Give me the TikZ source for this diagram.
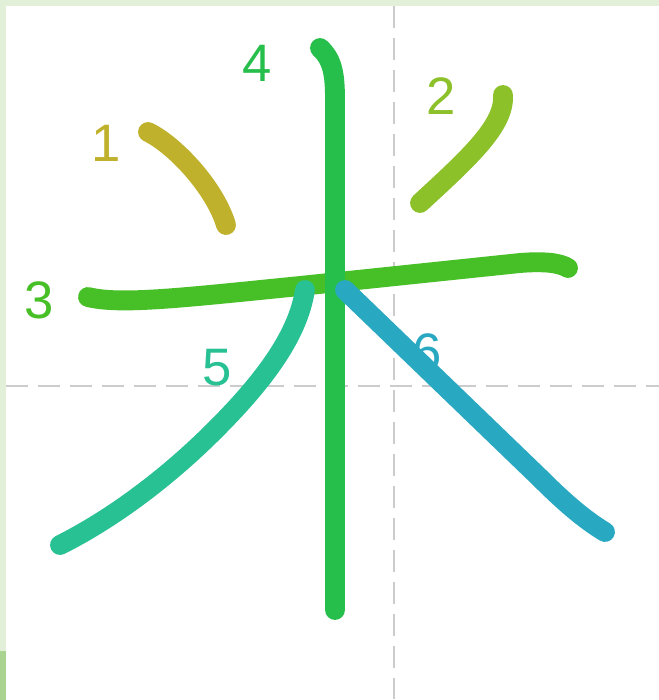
\documentclass[tikz,border=0pt]{standalone}
\usepackage{fontspec}
\setmainfont{Liberation Sans}
\usepackage{tikz}
\usetikzlibrary{positioning,calc}

\definecolor{frameLight}{HTML}{E2EFD9}
\definecolor{frameDark}{HTML}{A9D48F}
\definecolor{guideGray}{HTML}{CCCCCC}
\definecolor{strokeA}{HTML}{BFB12B}
\definecolor{strokeB}{HTML}{8DC12A}
\definecolor{strokeC}{HTML}{47BF27}
\definecolor{strokeD}{HTML}{27BF4B}
\definecolor{strokeE}{HTML}{27C193}
\definecolor{strokeF}{HTML}{29A9C1}

\tikzset{
  penline/.style={line width=11.3pt, line cap=round, line join=round},
  guideline/.style={guideGray, line width=1.6pt, dash pattern=on 12.5pt off 5.7pt},
  numlbl/.style={font=\fontsize{30}{30}\selectfont, inner sep=0pt}
}

\begin{document}
\begin{tikzpicture}[x=0.02cm, y=-0.02cm]
\useasboundingbox (0,0) rectangle (659,700);
% paper and frame
\fill[white] (0,0) rectangle (659,700);
\fill[frameLight] (0,0) rectangle (659,6);
\fill[frameLight] (0,0) rectangle (6,651);
\fill[frameDark] (0,651) rectangle (6,700);
% guide lines
\draw[guideline] (394,6) -- (394,700);
\draw[guideline] (6,386) -- (659,386);
% stroke numbers
\foreach \n/\px/\py/\col in {%
  1/106/143/strokeA,%
  2/441/96/strokeB,%
  3/39/300/strokeC,%
  4/257/63/strokeD,%
  5/217/368/strokeE,%
  6/427/352/strokeF%
} {
  \node[numlbl, text=\col] (num\n) at (\px,\py) {\n};
}
% strokes of the character
\draw[penline, strokeA] (148,132) .. controls (175,145) and (215,188) .. (226,225);
\draw[penline, strokeB] (503,95) .. controls (505,125) and (470,157) .. (420,203);
\draw[penline, strokeC] (88,297) .. controls (120,305) and (180,298) .. (300,286)
  -- (520,263) .. controls (545,261) and (560,263) .. (568,268);
\draw[penline, strokeD] (320,48) .. controls (333,60) and (335,75) .. (335,100) -- (335,610);
\draw[penline, strokeE] (305,290) .. controls (298,335) and (265,380) .. (215,430)
  .. controls (165,480) and (110,520) .. (60,545);
\draw[penline, strokeF] (345,290) -- (540,478) .. controls (565,503) and (585,520) .. (605,532);
\end{tikzpicture}
\end{document}
